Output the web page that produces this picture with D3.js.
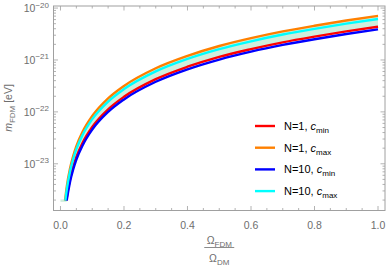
<!DOCTYPE html>
<html><head><meta charset="utf-8">
<script src="https://cdn.jsdelivr.net/npm/d3@7"></script>
<style>body{margin:0;background:#fff}svg{display:block}text{font-family:"Liberation Sans",Arial,sans-serif}</style>
</head><body><svg id="c" width="390" height="267"></svg>
<script>
// Data
const xOrange = [0.0143,0.02,0.03,0.04,0.05,0.07,0.1,0.15,0.2,0.3,0.4,0.5,0.6,0.7,0.8,0.9,1.0];
const yOrange = [1.95e-24,3.72e-24,8.13e-24,1.41e-23,2.19e-23,4.17e-23,8.32e-23,1.82e-22,3.16e-22,6.92e-22,1.20e-21,1.86e-21,2.63e-21,3.55e-21,4.57e-21,5.75e-21,7.08e-21];
const xCyan = [0.0154,0.02,0.03,0.04,0.05,0.07,0.1,0.15,0.2,0.3,0.4,0.5,0.6,0.7,0.8,0.9,1.0];
const yCyan = [1.95e-24,3.24e-24,7.08e-24,1.23e-23,1.91e-23,3.63e-23,7.24e-23,1.58e-22,2.75e-22,6.03e-22,1.05e-21,1.62e-21,2.29e-21,3.09e-21,3.98e-21,5.01e-21,6.17e-21];
const xRed = [0.0184,0.02,0.03,0.04,0.05,0.07,0.1,0.15,0.2,0.3,0.4,0.5,0.6,0.7,0.8,0.9,1.0];
const yRed = [1.95e-24,2.29e-24,5.01e-24,8.71e-24,1.35e-23,2.57e-23,5.13e-23,1.12e-22,1.95e-22,4.27e-22,7.41e-22,1.15e-21,1.62e-21,2.19e-21,2.82e-21,3.55e-21,4.37e-21];
const xBlue = [0.0195,0.02,0.03,0.04,0.05,0.07,0.1,0.15,0.2,0.3,0.4,0.5,0.6,0.7,0.8,0.9,1.0];
const yBlue = [1.95e-24,2.04e-24,4.47e-24,7.76e-24,1.20e-23,2.29e-23,4.57e-23,1.00e-22,1.74e-22,3.80e-22,6.61e-22,1.02e-21,1.45e-21,1.95e-21,2.51e-21,3.16e-21,3.89e-21];
const xTicks = [0.0,0.2,0.4,0.6,0.8,1.0];
const yTickExps = [-23,-22,-21,-20];
const legendLabels = [["N=1, ","min"],["N=1, ","max"],["N=10, ","min"],["N=10, ","max"]];

const svg = d3.select("#c");
const L=53.5, R=385, T=6, B=210.5;
const x = d3.scaleLinear().domain([-0.022,1.022]).range([L,R]);
const y = d3.scaleLog().domain([Math.pow(10,-23.9),Math.pow(10,-19.96)]).range([B,T]);
const frameCol="#a0a0a0", labCol="#6e6e6e";

const zip=(xs,ys)=>xs.map((v,i)=>[v,ys[i]]);
const series=[
 {x:xRed,y:yRed,c:"#ff0000"},
 {x:xOrange,y:yOrange,c:"#ff8000"},
 {x:xBlue,y:yBlue,c:"#0000ff"},
 {x:xCyan,y:yCyan,c:"#00ffff"}
];
const g = svg.append("g");
g.append("defs").append("clipPath").attr("id","clp").append("rect").attr("x",L).attr("y",T).attr("width",R-L).attr("height",B-T);
const pg = g.append("g").attr("clip-path","url(#clp)");
const line = d3.line().x(d=>x(d[0])).y(d=>y(d[1])).curve(d3.curveMonotoneX);
const upperPts = zip(xOrange,yOrange), lowerPts = zip(xRed,yRed);
pg.append("path").attr("d", line(upperPts)+ "L" + line(lowerPts.slice().reverse()).slice(1) + "Z")
  .attr("fill","#cfeedd").attr("stroke","none");
// small fill strip at the bottom start of the band
pg.append("rect").attr("x",x(0)).attr("y",y(yOrange[0])-1.2).attr("width",x(xBlue[0])-x(0)).attr("height",2.4).attr("fill","#cfeedd");
series.forEach(s=>{
  pg.append("path").attr("d",line(zip(s.x,s.y))).attr("fill","none").attr("stroke",s.c).attr("stroke-width",2.4);
});

// frame
svg.append("rect").attr("x",L).attr("y",T).attr("width",R-L).attr("height",B-T).attr("fill","none").attr("stroke",frameCol).attr("stroke-width",1);
// x ticks
const tk = svg.append("g").attr("stroke",frameCol).attr("stroke-width",0.8);
for(let i=0;i<=20;i++){
  const v=i*0.05, px=x(v), major=(i%4===0);
  const len = major?4.5:2.5;
  tk.append("line").attr("x1",px).attr("x2",px).attr("y1",B).attr("y2",B-len);
  tk.append("line").attr("x1",px).attr("x2",px).attr("y1",T).attr("y2",T+len);
}
xTicks.forEach(v=>{
  svg.append("text").attr("x",x(v)).attr("y",B+18).attr("text-anchor","middle").attr("font-size",10.5).attr("fill",labCol).text(d3.format(".1f")(v));
});
// y ticks
for(let e=-24;e<=-20;e++){
  for(let m=1;m<=9;m++){
    const v=m*Math.pow(10,e);
    if(v<y.domain()[0]||v>y.domain()[1]) continue;
    const py=y(v), len=(m===1)?4.5:2.5;
    tk.append("line").attr("x1",L).attr("x2",L+len).attr("y1",py).attr("y2",py);
    tk.append("line").attr("x1",R).attr("x2",R-len).attr("y1",py).attr("y2",py);
  }
}
yTickExps.forEach(e=>{
  const py=y(Math.pow(10,e));
  const t=svg.append("text").attr("x",49).attr("y",py+4).attr("text-anchor","end").attr("font-size",10.5).attr("fill",labCol);
  t.append("tspan").text("10");
  t.append("tspan").attr("dy",-4.5).attr("font-size",8).text("\u2212"+(-e));
});
// y label
const yl=svg.append("text").attr("transform","translate(12,108) rotate(-90)").attr("text-anchor","middle").attr("font-size",10.5).attr("fill",labCol);
yl.append("tspan").attr("font-style","italic").text("m");
yl.append("tspan").attr("dy",2.5).attr("font-size",8).text("FDM");
yl.append("tspan").attr("dy",-2.5).text(" [eV]");
// x label fraction
const cx=(L+R)/2;
const n=svg.append("text").attr("x",cx).attr("y",244).attr("text-anchor","middle").attr("font-size",10.5).attr("fill",labCol);
n.append("tspan").text("\u03A9");
n.append("tspan").attr("dy",2.5).attr("font-size",8).text("FDM");
svg.append("line").attr("x1",cx-15).attr("x2",cx+15).attr("y1",247.5).attr("y2",247.5).attr("stroke",labCol).attr("stroke-width",0.8);
const dd=svg.append("text").attr("x",cx).attr("y",262).attr("text-anchor","middle").attr("font-size",10.5).attr("fill",labCol);
dd.append("tspan").text("\u03A9");
dd.append("tspan").attr("dy",2.5).attr("font-size",8).text("DM");
// legend
const legCols=["#ff0000","#ff8000","#0000ff","#00ffff"];
legendLabels.forEach((lab,i)=>{
  const py=126+i*21.7;
  svg.append("line").attr("x1",255).attr("x2",275).attr("y1",py).attr("y2",py).attr("stroke",legCols[i]).attr("stroke-width",2.4);
  const t=svg.append("text").attr("x",284).attr("y",py+4).attr("font-size",11).attr("fill","#000");
  t.append("tspan").text(lab[0]);
  t.append("tspan").attr("font-style","italic").text("c");
  t.append("tspan").attr("dy",3).attr("font-size",8).text(lab[1]);
});
</script></body></html>
